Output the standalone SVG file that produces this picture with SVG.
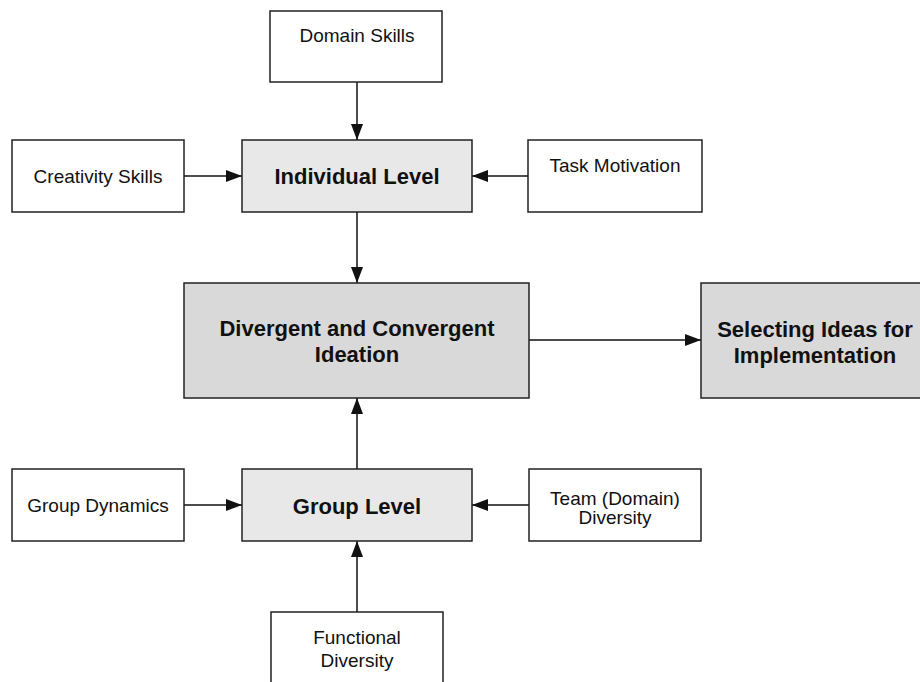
<svg xmlns="http://www.w3.org/2000/svg" width="920" height="682" viewBox="0 0 920 682">
<style>
.box{fill:#fff;stroke:#222;stroke-width:1.5}
.lvl{fill:#e8e8e8;stroke:#222;stroke-width:1.5}
.core{fill:#d9d9d9;stroke:#222;stroke-width:1.5}
.t{font-family:"Liberation Sans",Arial,sans-serif;font-size:19px;fill:#111;text-anchor:middle}
.b{font-family:"Liberation Sans",Arial,sans-serif;font-size:22px;font-weight:bold;fill:#111;text-anchor:middle}
.c{stroke:#111;stroke-width:1.5;fill:none;marker-end:url(#ah)}
</style>
<defs>
<marker id="ah" markerUnits="userSpaceOnUse" markerWidth="16" markerHeight="12" refX="16" refY="6" orient="auto">
<path d="M0,0 L16,6 L0,12 z" fill="#111"/>
</marker>
</defs>
<rect width="920" height="682" fill="#fff"/>
<g id="connectors">
<line class="c" x1="357" y1="82" x2="357" y2="140"/>
<line class="c" x1="184" y1="176" x2="242" y2="176"/>
<line class="c" x1="528" y1="176" x2="472" y2="176"/>
<line class="c" x1="357" y1="212" x2="357" y2="283"/>
<line class="c" x1="529" y1="340" x2="701" y2="340"/>
<line class="c" x1="357" y1="469" x2="357" y2="398"/>
<line class="c" x1="184" y1="505" x2="242" y2="505"/>
<line class="c" x1="529" y1="505" x2="472" y2="505"/>
<line class="c" x1="357" y1="612" x2="357" y2="541"/>
</g>
<g id="domain-skills"><rect class="box" x="270" y="11" width="172" height="71"/><text class="t" x="357" y="42">Domain Skills</text></g>
<g id="creativity-skills"><rect class="box" x="12" y="140" width="172" height="72"/><text class="t" x="98" y="183">Creativity Skills</text></g>
<g id="individual-level"><rect class="lvl" x="242" y="140" width="230" height="72"/><text class="b" x="357" y="184">Individual Level</text></g>
<g id="task-motivation"><rect class="box" x="528" y="140" width="174" height="72"/><text class="t" x="615" y="172">Task Motivation</text></g>
<g id="ideation"><rect class="core" x="184" y="283" width="345" height="115"/><text class="b" x="357" y="336">Divergent and Convergent</text><text class="b" x="357" y="362">Ideation</text></g>
<g id="selecting"><rect class="core" x="701" y="283" width="228" height="115"/><text class="b" x="815" y="337">Selecting Ideas for</text><text class="b" x="815" y="363">Implementation</text></g>
<g id="group-dynamics"><rect class="box" x="12" y="469" width="172" height="72"/><text class="t" x="98" y="512">Group Dynamics</text></g>
<g id="group-level"><rect class="lvl" x="242" y="469" width="230" height="72"/><text class="b" x="357" y="514">Group Level</text></g>
<g id="team-diversity"><rect class="box" x="529" y="469" width="172" height="72"/><text class="t" x="615" y="505">Team (Domain)</text><text class="t" x="615" y="524">Diversity</text></g>
<g id="functional-diversity"><rect class="box" x="271" y="612" width="172" height="80"/><text class="t" x="357" y="644">Functional</text><text class="t" x="357" y="667">Diversity</text></g>
</svg>
